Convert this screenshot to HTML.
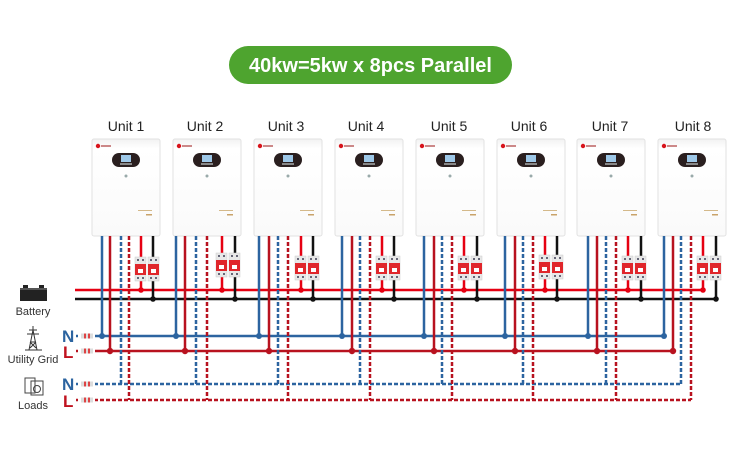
<!DOCTYPE html>
<html><head><meta charset="utf-8"><style>
html,body{margin:0;padding:0;background:#fff;}
svg{display:block;font-family:"Liberation Sans",sans-serif;}
</style></head><body>
<svg width="750" height="456" viewBox="0 0 750 456" xmlns="http://www.w3.org/2000/svg">
<defs>
<linearGradient id="bg" x1="0" y1="0" x2="0" y2="1"><stop offset="0" stop-color="#f2f2f2"/><stop offset="0.1" stop-color="#fff"/><stop offset="1" stop-color="#fafafa"/></linearGradient>
<g id="inv">
<rect x="0" y="0" width="68" height="97" rx="2" fill="url(#bg)" stroke="#e2e2e2"/>
<circle cx="6" cy="7" r="2.2" fill="#d8141c"/><rect x="9" y="6" width="10" height="2" fill="#c88"/>
<rect x="20" y="14" width="28" height="14" rx="7" fill="#2a1f1f"/>
<rect x="29" y="16" width="10" height="7" fill="#9ec8e8"/>
<rect x="28" y="24" width="12" height="2" fill="#888"/>
<circle cx="34" cy="37" r="1.5" fill="#9aa"/>
<rect x="46" y="71" width="14" height="1" fill="#d4b98a"/><rect x="54" y="75" width="6" height="1.5" fill="#c9a36a"/>
</g>
<g id="brk">
<rect x="0" y="0" width="11" height="24" fill="#e8e8e8" stroke="#ccc" stroke-width="0.5"/>
<rect x="13" y="0" width="11" height="24" fill="#e8e8e8" stroke="#ccc" stroke-width="0.5"/>
<rect x="0" y="7" width="11" height="11" fill="#e0262b"/><rect x="13" y="7" width="11" height="11" fill="#e0262b"/>
<rect x="2" y="2" width="2" height="2" fill="#667"/><rect x="7" y="2" width="2" height="2" fill="#667"/>
<rect x="15" y="2" width="2" height="2" fill="#667"/><rect x="20" y="2" width="2" height="2" fill="#667"/>
<rect x="2" y="20" width="2" height="2" fill="#667"/><rect x="7" y="20" width="2" height="2" fill="#667"/>
<rect x="15" y="20" width="2" height="2" fill="#667"/><rect x="20" y="20" width="2" height="2" fill="#667"/>
<rect x="3" y="12" width="5" height="4" fill="#fff"/><rect x="16" y="12" width="5" height="4" fill="#fff"/>
</g>
<g id="plug"><rect x="0" y="-2.5" width="12" height="5" fill="#ddd"/><rect x="3" y="-2.5" width="2" height="5" fill="#d44"/><rect x="7" y="-2.5" width="2" height="5" fill="#d44"/></g>
</defs>

<rect x="229" y="46" width="283" height="38" rx="19" fill="#4ea42f"/>
<text x="370.5" y="72" text-anchor="middle" fill="#fff" font-size="20" font-weight="bold">40kw=5kw x 8pcs Parallel</text>

<g font-size="14" fill="#222" text-anchor="middle">
<text x="126" y="131">Unit 1</text><text x="205" y="131">Unit 2</text><text x="286" y="131">Unit 3</text><text x="366" y="131">Unit 4</text>
<text x="449" y="131">Unit 5</text><text x="529" y="131">Unit 6</text><text x="610" y="131">Unit 7</text><text x="693" y="131">Unit 8</text>
</g>

<use href="#inv" x="92" y="139"/><use href="#inv" x="173" y="139"/><use href="#inv" x="254" y="139"/><use href="#inv" x="335" y="139"/>
<use href="#inv" x="416" y="139"/><use href="#inv" x="497" y="139"/><use href="#inv" x="577" y="139"/><use href="#inv" x="658" y="139"/>

<g stroke-width="2.5" fill="none">
<line x1="75" y1="290" x2="703" y2="290" stroke="#e60012"/>
<line x1="75" y1="299" x2="716" y2="299" stroke="#111"/>
<line x1="76" y1="336" x2="664" y2="336" stroke="#2c64a0"/>
<line x1="76" y1="351" x2="673" y2="351" stroke="#b8121f"/>
<line x1="76" y1="384" x2="681" y2="384" stroke="#2c64a0" stroke-dasharray="4 2"/>
<line x1="76" y1="400" x2="691" y2="400" stroke="#b8121f" stroke-dasharray="4 2"/>
</g>
<rect x="78" y="332" width="17" height="8" fill="#fff"/><rect x="78" y="347" width="17" height="8" fill="#fff"/>
<rect x="78" y="380" width="17" height="8" fill="#fff"/><rect x="78" y="396" width="17" height="8" fill="#fff"/>
<use href="#plug" x="81" y="336"/><use href="#plug" x="81" y="351"/><use href="#plug" x="81" y="384"/><use href="#plug" x="81" y="400"/>

<g stroke-width="2.5" fill="none">
<g stroke="#2c64a0"><path d="M102 236V336M176 236V336M259 236V336M342 236V336M424 236V336M505 236V336M588 236V336M664 236V336"/></g>
<g stroke="#b8121f"><path d="M110 236V351M185 236V351M269 236V351M352 236V351M434 236V351M515 236V351M597 236V351M673 236V351"/></g>
<g stroke="#2c64a0" stroke-dasharray="4 2"><path d="M121 236V384M196 236V384M278 236V384M360 236V384M442 236V384M523 236V384M606 236V384M681 236V384"/></g>
<g stroke="#b8121f" stroke-dasharray="4 2"><path d="M129 236V400M207 236V400M288 236V400M370 236V400M452 236V400M533 236V400M616 236V400M691 236V400"/></g>
<g stroke="#e60012"><path d="M141 236V290M222 236V290M301 236V290M382 236V290M464 236V290M545 236V290M628 236V290M703 236V290"/></g>
<g stroke="#111"><path d="M153 236V299M235 236V299M313 236V299M394 236V299M477 236V299M557 236V299M641 236V299M716 236V299"/></g>
</g>

<use href="#brk" x="135" y="257"/><use href="#brk" x="216" y="253"/><use href="#brk" x="295" y="256"/><use href="#brk" x="376" y="256"/>
<use href="#brk" x="458" y="256"/><use href="#brk" x="539" y="255"/><use href="#brk" x="622" y="256"/><use href="#brk" x="697" y="256"/>

<g fill="#e60012"><circle cx="141" cy="290" r="2.8"/><circle cx="222" cy="290" r="2.8"/><circle cx="301" cy="290" r="2.8"/><circle cx="382" cy="290" r="2.8"/><circle cx="464" cy="290" r="2.8"/><circle cx="545" cy="290" r="2.8"/><circle cx="628" cy="290" r="2.8"/><circle cx="703" cy="290" r="2.8"/></g>
<g fill="#111"><circle cx="153" cy="299" r="2.8"/><circle cx="235" cy="299" r="2.8"/><circle cx="313" cy="299" r="2.8"/><circle cx="394" cy="299" r="2.8"/><circle cx="477" cy="299" r="2.8"/><circle cx="557" cy="299" r="2.8"/><circle cx="641" cy="299" r="2.8"/><circle cx="716" cy="299" r="2.8"/></g>
<g fill="#2c64a0"><circle cx="102" cy="336" r="3"/><circle cx="176" cy="336" r="3"/><circle cx="259" cy="336" r="3"/><circle cx="342" cy="336" r="3"/><circle cx="424" cy="336" r="3"/><circle cx="505" cy="336" r="3"/><circle cx="588" cy="336" r="3"/><circle cx="664" cy="336" r="3"/></g>
<g fill="#b8121f"><circle cx="110" cy="351" r="3.2"/><circle cx="185" cy="351" r="3.2"/><circle cx="269" cy="351" r="3.2"/><circle cx="352" cy="351" r="3.2"/><circle cx="434" cy="351" r="3.2"/><circle cx="515" cy="351" r="3.2"/><circle cx="597" cy="351" r="3.2"/><circle cx="673" cy="351" r="3.2"/></g>

<rect x="20" y="288" width="27" height="13" fill="#222"/><rect x="23" y="285" width="5" height="3" fill="#222"/><rect x="39" y="285" width="5" height="3" fill="#222"/>
<rect x="20" y="288" width="27" height="2" fill="#555"/>
<text x="33" y="315" text-anchor="middle" font-size="11" fill="#333">Battery</text>
<g stroke="#333" stroke-width="1" fill="none"><path d="M33 326V330M29 330H37M27 334H39M33 330L29 350M33 330L37 350M30 342H36M30 342L36 348M36 342L30 348M25 350H42"/></g>
<text x="33" y="363" text-anchor="middle" font-size="11" fill="#333">Utility Grid</text>
<g stroke="#444" stroke-width="1" fill="none"><rect x="25" y="378" width="10" height="15"/><rect x="31" y="381" width="12" height="14"/><circle cx="37" cy="389" r="3.5"/></g>
<text x="33" y="409" text-anchor="middle" font-size="11" fill="#333">Loads</text>

<g font-size="17" font-weight="bold">
<text x="62" y="342" fill="#2c64a0">N</text><text x="63" y="358" fill="#c0121f">L</text>
<text x="62" y="390" fill="#2c64a0">N</text><text x="63" y="407" fill="#c0121f">L</text>
</g>
</svg>
</body></html>
